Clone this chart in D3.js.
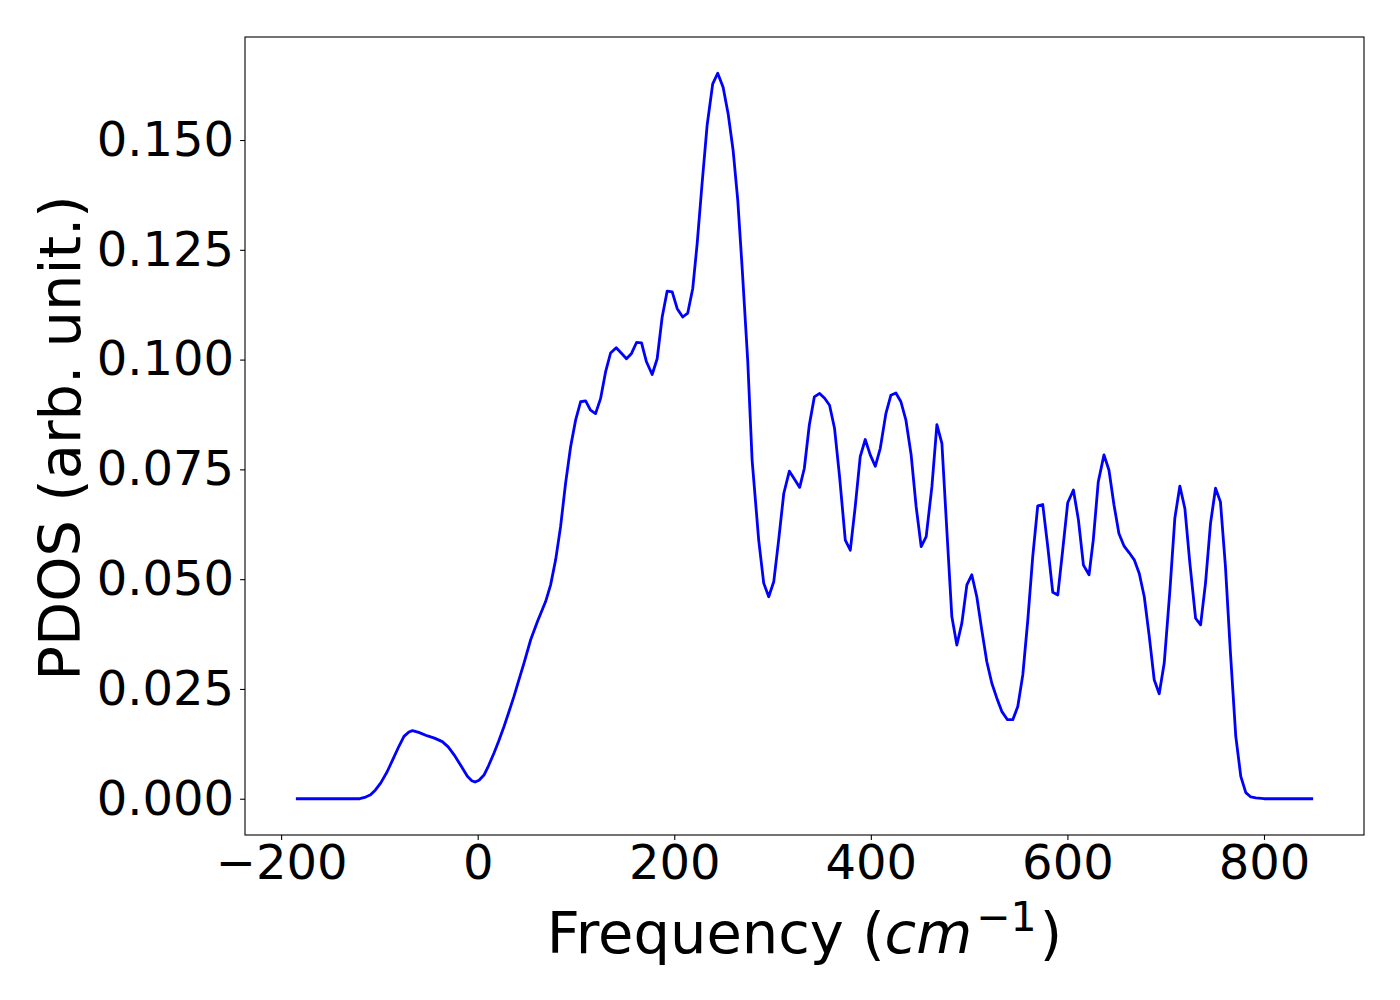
<!DOCTYPE html>
<html>
<head>
<meta charset="utf-8">
<script src="https://cdn.jsdelivr.net/npm/d3@7"></script>
<style>
  html, body { margin: 0; padding: 0; background: #fff; }
  svg { display: block; font-family: "DejaVu Sans", sans-serif; }
</style>
</head>
<body>
<svg id="chart" width="1400" height="1000"></svg>
<script>
// Frequency (cm^-1) and PDOS values
const frequency = [-185, -150, -120, -115, -109, -104, -98.6, -92, -85, -80, -75, -70, -66.4, -60, -51, -44, -36, -30, -24, -17, -10.5, -6, -2.7, 1.4, 6.4, 11, 16.6, 21.5, 26.7, 31.8, 36.9, 42, 47.1, 53.9, 60.7, 69.1, 74.2, 79.3, 84.3, 89.4, 94.5, 99.6, 104.7, 109.8, 114.8, 119.9, 125, 130.1, 135.2, 140.9, 146, 151.4, 156.5, 161.6, 166.7, 171.7, 177.5, 182.6, 187.7, 192.8, 197.9, 203, 208.6, 213.7, 218.8, 223.3, 228.3, 233.4, 239.1, 244.2, 249.7, 254.8, 259.9, 264.6, 269, 274.7, 279.2, 285.9, 291, 296.1, 301.2, 306.2, 311.4, 317.1, 322.2, 327.6, 332.3, 337.4, 342.5, 347.9, 353, 358, 363.1, 368.2, 374, 379.1, 384.1, 389.2, 394.3, 399.4, 404.5, 409.6, 415.3, 420.4, 425.5, 430.6, 435.7, 441, 446.1, 451.2, 456.3, 462.1, 467.2, 472.3, 477.3, 482.4, 487.5, 492.6, 497.7, 502.7, 507.8, 512.9, 518, 523.1, 528.2, 533.2, 539, 544.4, 549.5, 554.6, 559.7, 564.7, 569.8, 574.9, 580, 585.1, 590.2, 595.2, 600.3, 606.1, 611.2, 616.3, 622, 626.3, 631.4, 637.2, 642.3, 647.4, 652.4, 657.5, 662.9, 668, 673.1, 678.2, 683.3, 688.3, 693.4, 698.5, 704.3, 709.3, 714.4, 719.5, 724.6, 730.4, 735.5, 740.5, 745.6, 750.7, 755.7, 760.8, 765.9, 771.3, 776.4, 781.5, 786.6, 791.7, 800, 850];
const pdos = [0, 0, 0, 0.0003, 0.0009, 0.0020, 0.0036, 0.0062, 0.0096, 0.0120, 0.0142, 0.0152, 0.0155, 0.0151, 0.0143, 0.0138, 0.0130, 0.0118, 0.0100, 0.0075, 0.0051, 0.0041, 0.0038, 0.0042, 0.0054, 0.0075, 0.0104, 0.0132, 0.0164, 0.0198, 0.0233, 0.0271, 0.0309, 0.0362, 0.0403, 0.0449, 0.0487, 0.0544, 0.0619, 0.0718, 0.0801, 0.0862, 0.0904, 0.0906, 0.0885, 0.0877, 0.0911, 0.0972, 0.1015, 0.1027, 0.1015, 0.1002, 0.1014, 0.1039, 0.1038, 0.0995, 0.0966, 0.1002, 0.1097, 0.1156, 0.1154, 0.1116, 0.1097, 0.1106, 0.1162, 0.1264, 0.1401, 0.1533, 0.1628, 0.1652, 0.1620, 0.1560, 0.1476, 0.1363, 0.1211, 0.0999, 0.0771, 0.0589, 0.0491, 0.0460, 0.0494, 0.0589, 0.0695, 0.0746, 0.0728, 0.0709, 0.0752, 0.0851, 0.0915, 0.0923, 0.0912, 0.0896, 0.0843, 0.0733, 0.0589, 0.0566, 0.0665, 0.0779, 0.0818, 0.0783, 0.0757, 0.0798, 0.0877, 0.0919, 0.0924, 0.0904, 0.0862, 0.0783, 0.0665, 0.0574, 0.0597, 0.0710, 0.0852, 0.0809, 0.0612, 0.0415, 0.0350, 0.0400, 0.0487, 0.0510, 0.0460, 0.0384, 0.0312, 0.0263, 0.0229, 0.0199, 0.0180, 0.0180, 0.0210, 0.0282, 0.0407, 0.0551, 0.0667, 0.0670, 0.0574, 0.0470, 0.0464, 0.0566, 0.0674, 0.0703, 0.0635, 0.0532, 0.0510, 0.0589, 0.0722, 0.0783, 0.0748, 0.0669, 0.0604, 0.0576, 0.0560, 0.0544, 0.0513, 0.0460, 0.0369, 0.0271, 0.0239, 0.0309, 0.0475, 0.0639, 0.0712, 0.0661, 0.0536, 0.0411, 0.0396, 0.0491, 0.0627, 0.0707, 0.0676, 0.0528, 0.0331, 0.0142, 0.0051, 0.0014, 0.0004, 0.0002, 0, 0];
const xTicks = [-200, 0, 200, 400, 600, 800];
const yTicks = [0, 0.025, 0.05, 0.075, 0.1, 0.125, 0.15];
const xLabel = "Frequency (";
const yLabel = "PDOS (arb. unit.)";

const plot = { left: 245, right: 1364, top: 37, bottom: 835 };
const svg = d3.select("#chart");

const [xmin, xmax] = d3.extent(frequency);
const xpad = (xmax - xmin) * 0.05;
const [ymin, ymax] = d3.extent(pdos);
const ypad = (ymax - ymin) * 0.05;

const x = d3.scaleLinear().domain([xmin - xpad, xmax + xpad]).range([plot.left, plot.right]);
const y = d3.scaleLinear().domain([ymin - ypad, ymax + ypad]).range([plot.bottom, plot.top]);

const data = frequency.map((f, i) => [f, pdos[i]]);

// line
svg.append("path")
  .datum(data)
  .attr("fill", "none")
  .attr("stroke", "#0000ff")
  .attr("stroke-width", 2.8)
  .attr("stroke-linejoin", "round")
  .attr("d", d3.line().x(d => x(d[0])).y(d => y(d[1])));

// axes
const xAxis = d3.axisBottom(x).tickValues(xTicks).tickFormat(d3.format("d")).tickSize(4.9).tickPadding(5);
const yAxis = d3.axisLeft(y).tickValues(yTicks).tickFormat(d3.format(".3f")).tickSize(4.9).tickPadding(6);

const gx = svg.append("g").attr("transform", `translate(0,${plot.bottom})`).call(xAxis);
const gy = svg.append("g").attr("transform", `translate(${plot.left},0)`).call(yAxis);
[gx, gy].forEach(g => {
  g.select(".domain").remove();
  g.selectAll(".tick line").attr("stroke", "#000").attr("stroke-width", 1.1);
  g.selectAll(".tick text").attr("fill", "#000").attr("font-size", 48).attr("font-family", "DejaVu Sans");
});

// frame
svg.append("rect")
  .attr("x", plot.left).attr("y", plot.top)
  .attr("width", plot.right - plot.left).attr("height", plot.bottom - plot.top)
  .attr("fill", "none").attr("stroke", "#000").attr("stroke-width", 1.1);

// x label with math
const xl = svg.append("text")
  .attr("x", (plot.left + plot.right) / 2)
  .attr("y", 953)
  .attr("text-anchor", "middle")
  .attr("font-size", 57.5)
  .attr("fill", "#000");
xl.append("tspan").text(xLabel);
xl.append("tspan").attr("font-style", "italic").text("cm");
xl.append("tspan").attr("font-size", 41).attr("dx", 4).attr("dy", -22).text("\u22121");
xl.append("tspan").attr("dx", 3).attr("dy", 22).text(")");

// y label
svg.append("text")
  .attr("transform", `translate(80,${(plot.top + plot.bottom) / 2 + 2}) rotate(-90)`)
  .attr("text-anchor", "middle")
  .attr("font-size", 57.5)
  .attr("fill", "#000")
  .text(yLabel);
</script>
</body>
</html>
